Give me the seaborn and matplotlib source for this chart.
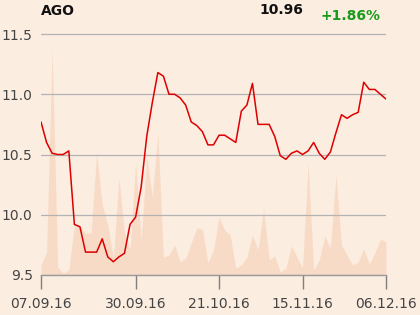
import matplotlib
matplotlib.use("Agg")
import matplotlib.pyplot as plt
import seaborn as sns
import pandas as pd
import numpy as np

ticker = "AGO"
last_price = "10.96"
change = "+1.86%"

price = [10.77, 10.60, 10.51, 10.50, 10.50, 10.53, 9.92, 9.90, 9.69, 9.69,
         9.69, 9.80, 9.65, 9.61, 9.65, 9.68, 9.92, 9.98, 10.23, 10.65,
         10.93, 11.18, 11.15, 11.00, 11.00, 10.97, 10.91, 10.77, 10.74, 10.69,
         10.58, 10.58, 10.66, 10.66, 10.63, 10.60, 10.86, 10.91, 11.09, 10.75,
         10.75, 10.75, 10.65, 10.49, 10.46, 10.51, 10.53, 10.50, 10.53, 10.60,
         10.51, 10.46, 10.52, 10.68, 10.83, 10.80, 10.83, 10.85, 11.10, 11.04,
         11.04, 11.00, 10.96]

volume = [10, 23, 226, 8, 2, 5, 50, 48, 42, 42,
          122, 70, 50, 17, 97, 43, 25, 113, 35, 118,
          78, 142, 18, 20, 30, 13, 17, 32, 47, 46,
          12, 25, 58, 45, 40, 7, 10, 18, 40, 25,
          67, 15, 19, 3, 7, 29, 18, 7, 112, 5,
          15, 39, 27, 100, 30, 20, 10, 13, 26, 11,
          22, 36, 33]
volume = [v * 1000 for v in volume]

tick_idx = [0, 17, 32, 47, 62]
tick_labels = ["07.09.16", "30.09.16", "21.10.16", "15.11.16", "06.12.16"]
y_ticks = [9.5, 10.0, 10.5, 11.0, 11.5]

df = pd.DataFrame({"i": np.arange(len(price)), "price": price, "volume": volume})

bg = "#fcede1"
sns.set_theme(style="white")
plt.rcParams["font.family"] = ["DejaVu Sans"]

W, H = 420, 315
fig = plt.figure(figsize=(4.2, 3.15), dpi=100, facecolor=bg)
left, right, bottom, top = 41, 386, 275, 20
ax = fig.add_axes([left / W, 1 - bottom / H, (right - left) / W, (bottom - top) / H])
axv = ax.twinx()
ax.set_zorder(2)
axv.set_zorder(1)
ax.patch.set_visible(False)
axv.patch.set_facecolor(bg)

axv.fill_between(df["i"], 0, df["volume"], color="#f8dbc6", linewidth=0)
axv.set_ylim(0, 255000)
axv.set_yticks([])
for s in axv.spines.values():
    s.set_visible(False)

sns.lineplot(data=df, x="i", y="price", ax=ax, color="#dd0000", linewidth=1.1)
ax.set_xlim(0, len(price) - 1)
ax.set_ylim(9.5, 9.5 + (bottom - top) / 120.5)
ax.set_yticks(y_ticks)
ax.set_yticklabels([f"{v:.1f}" for v in y_ticks])
ax.set_xticks(tick_idx)
ax.set_xticklabels(tick_labels)
ax.set_xlabel("")
ax.set_ylabel("")
ax.grid(axis="y", color="#b3b3b3", linewidth=0.9)
ax.grid(axis="x", visible=False)
for k in ["top", "right", "left"]:
    ax.spines[k].set_visible(False)
ax.spines["bottom"].set_color("#9a9a9a")
ax.spines["bottom"].set_linewidth(1.0)
ax.tick_params(axis="y", length=0, pad=6, labelsize=10, labelcolor="#444444")
ax.tick_params(axis="x", length=10, width=1, color="#808080", direction="out",
               pad=6, labelsize=10, labelcolor="#444444", bottom=True)

fig.text(41 / W, 1 - 11 / H, ticker, ha="left", va="center", fontsize=10,
         fontweight="bold", color="#111111")
fig.text(303 / W, 1 - 10 / H, last_price, ha="right", va="center", fontsize=10,
         fontweight="bold", color="#111111")
fig.text(381 / W, 1 - 16 / H, change, ha="right", va="center", fontsize=10,
         fontweight="bold", color="#1a9a1a")

fig.savefig("out.png", dpi=100, facecolor=bg)
